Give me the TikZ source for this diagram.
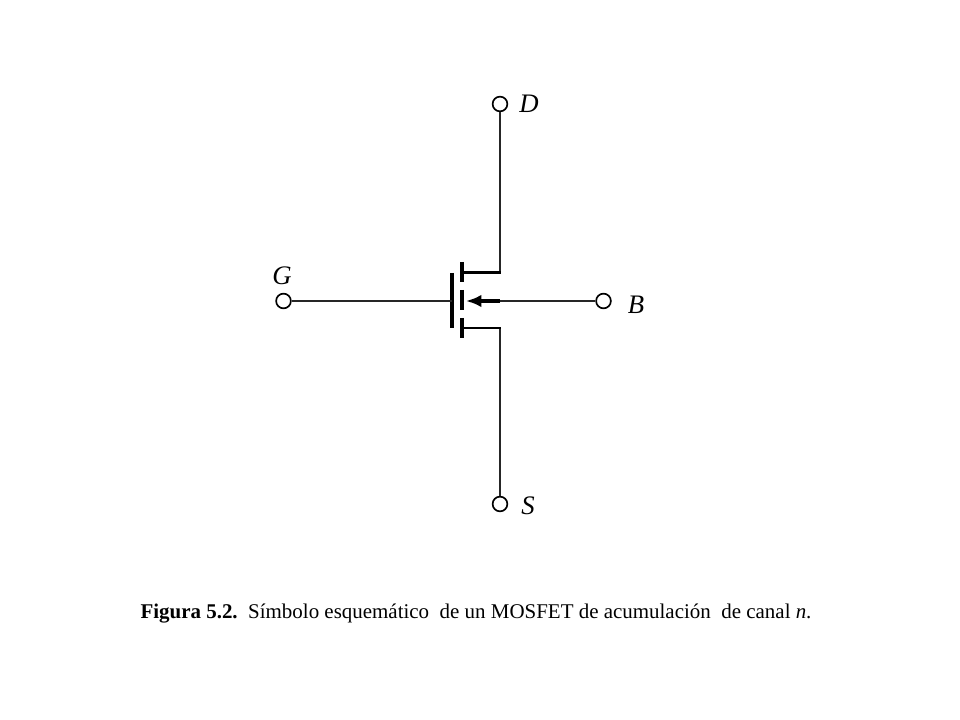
\documentclass[tikz,border=0pt]{standalone}
\usepackage{fontspec}
\setmainfont{Liberation Serif}
\usetikzlibrary{arrows.meta}
\tikzset{
  terminal/.style={circle,draw,line width=1.2pt,minimum size=10.5pt,inner sep=0pt,fill=white},
  termlabel/.style={font=\fontsize{19}{22}\selectfont\itshape,inner sep=0pt},
  wire/.style={line width=1.4pt,color=black!85},
  plate/.style={line width=2.4pt},
}
\begin{document}
\begin{tikzpicture}[x=.025cm,y=-.025cm]
    \useasboundingbox (0,0) rectangle (960,720);
    % terminales
    \node[terminal] (D) at (500,104) {};
    \node[terminal] (S) at (500,504) {};
    \node[terminal] (G) at (283.5,301) {};
    \node[terminal] (B) at (603.5,301) {};
    \node[termlabel] (labD) at (529,104) {D};
    \node[termlabel] (labS) at (528,506) {S};
    \node[termlabel] (labG) at (282,276) {G};
    \node[termlabel] (labB) at (636,305) {B};
    % puntos del transistor
    \coordinate (gate) at (452,301);
    \coordinate (drainplate) at (462,272.5);
    \coordinate (drainbend) at (500,272.5);
    \coordinate (sourceplate) at (462,328);
    \coordinate (sourcebend) at (500,328);
    \coordinate (bodytip) at (466,301);
    \coordinate (bodybend) at (500,301);
    % placas
    \draw[plate] (452,273) -- (452,328);
    \foreach \y in {262,290,318} {
      \draw[plate] (462,\y) -- (462,\y+20);
    }
    % conexiones
    \draw[wire] (G) -- (gate);
    \draw[wire] (D) -- (drainbend);
    \draw[wire] (S) -- (sourcebend);
    \draw[wire] (B) -- (bodybend);
    \draw[line width=1.9pt,line cap=rect] (drainplate) -- (drainbend);
    \draw[line width=1.9pt,line cap=rect] (sourceplate) -- (sourcebend);
    \draw[-{Latex[length=11pt,width=9pt]},line width=2.2pt] (bodybend) -- (bodytip);
    \node[inner sep=0pt,font=\fontsize{14.9}{18}\selectfont] (caption) at (476,613.5) {\textbf{Figura 5.2.}\ \ Símbolo esquemático\ \ de un MOSFET de acumulación\ \ de canal \textit{n}.};
\end{tikzpicture}
\end{document}
